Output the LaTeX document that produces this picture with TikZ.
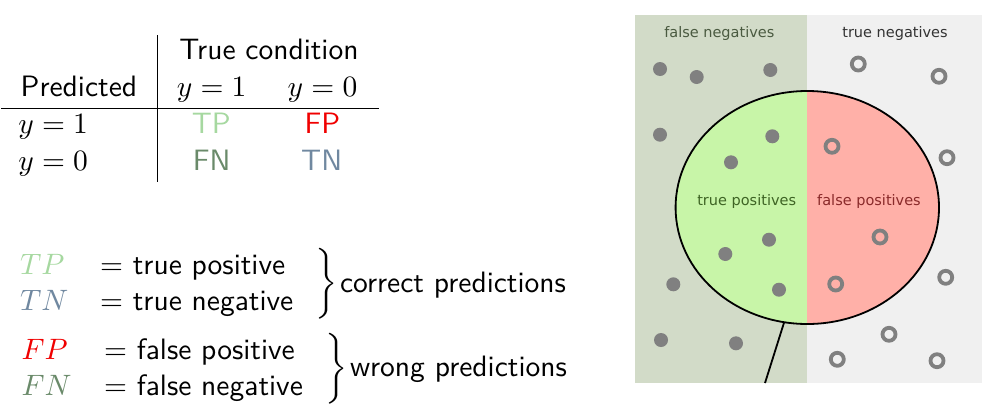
\documentclass[tikz,border=0pt]{standalone}
\usepackage{fontspec}
\newfontfamily\dejavu{DejaVu Sans}
\newfontfamily\lmsf{lmsans10-regular}[Extension=.otf]
\DeclareFontShape{OML}{cmm}{m}{it}{<->cmmi10}{}
\DeclareFontShape{OT1}{cmr}{m}{n}{<->cmr10}{}
\DeclareFontShape{OMS}{cmsy}{m}{n}{<->cmsy10}{}
\DeclareFontShape{OMX}{cmex}{m}{n}{<->cmex10}{}
\usetikzlibrary{shapes.geometric}
\definecolor{tpcol}{HTML}{A6D8A0}
\definecolor{fpcol}{HTML}{F00000}
\definecolor{fncol}{HTML}{6A8A6A}
\definecolor{tncol}{HTML}{7088A0}
\definecolor{fnbg}{HTML}{D2DBC8}
\definecolor{tnbg}{HTML}{F0F0F0}
\definecolor{tpfill}{HTML}{C8F5A8}
\definecolor{fpfill}{HTML}{FFB0A8}
\definecolor{dotcol}{HTML}{808080}
\definecolor{fnlab}{HTML}{4A5A40}
\definecolor{tnlab}{HTML}{333333}
\definecolor{tplab}{HTML}{3E6424}
\definecolor{fplab}{HTML}{8A2A2A}
\newcommand{\mybrace}{$\left.\vcenter{\hbox{\rule{0pt}{70pt}}}\right\}$}
\begin{document}
\begin{tikzpicture}[x=1pt,y=-1pt,
  txt/.style={inner sep=0pt,outer sep=0pt,font=\fontsize{29.5}{35}\selectfont\lmsf},
  lab/.style={inner sep=0pt,outer sep=0pt,font=\fontsize{14.5}{16}\selectfont\dejavu},
  rule/.style={line width=1pt,black},
  fdot/.style={circle,fill=dotcol,inner sep=0pt,minimum size=14pt},
  odot/.style={circle,draw=dotcol,line width=3.8pt,inner sep=0pt,minimum size=13pt}]
\useasboundingbox (0,0) rectangle (1001,413);
% ---------------- table
\node[txt,anchor=base] (tc) at (269,59.3) {True condition};
\node[txt,anchor=base west] (pred) at (20.7,96.7) {Predicted};
\node[txt,anchor=base] (h1) at (211.7,96) {$y=1$};
\node[txt,anchor=base] (h0) at (322.5,96) {$y=0$};
\node[txt,anchor=base west] (r1) at (18.3,133.3) {$y=1$};
\node[txt,anchor=base west] (r0) at (18.3,170.7) {$y=0$};
\node[txt,anchor=base,text=tpcol] (ctp) at (211.3,133.3) {TP};
\node[txt,anchor=base,text=fpcol] (cfp) at (322.5,133.3) {FP};
\node[txt,anchor=base,text=fncol] (cfn) at (211.7,170.7) {FN};
\node[txt,anchor=base,text=tncol] (ctn) at (321.7,170.7) {TN};
\coordinate (vt) at (157.3,35);
\coordinate (vb) at (157.3,181.7);
\coordinate (hl) at (1,108.3);
\coordinate (hr) at (379,108.3);
\draw[rule] (vt) -- (vb);
\draw[rule] (hl) -- (hr);
% ---------------- legend
\node[txt,anchor=base west,text=tpcol] (ltp) at (20,274) {$TP$};
\node[txt,anchor=base west] (dtp) at (100,274) {$=$ true positive};
\node[txt,anchor=base west,text=tncol] (ltn) at (20,310) {$TN$};
\node[txt,anchor=base west] (dtn) at (100,310) {$=$ true negative};
\node[txt,anchor=base west,text=fpcol] (lfp) at (21.7,359.3) {$FP$};
\node[txt,anchor=base west] (dfp) at (104,359.3) {$=$ false positive};
\node[txt,anchor=base west,text=fncol] (lfn) at (21.7,395) {$FN$};
\node[txt,anchor=base west] (dfn) at (104,395) {$=$ false negative};
\node[txt,anchor=west] (b1) at (314,284) {\mybrace};
\node[txt,anchor=base west] (cp) at (340,292.3) {correct predictions};
\node[txt,anchor=west] (b2) at (324,369) {\mybrace};
\node[txt,anchor=base west] (wp) at (350,376.7) {wrong predictions};
% ---------------- right figure
\fill[fnbg] (635,15) rectangle (807.3,383);
\fill[tnbg] (807.3,15) rectangle (981.7,383);
\begin{scope}
\clip (807.3,207.5) ellipse [x radius=131.7, y radius=116.5];
\fill[tpfill] (670,85) rectangle (807.3,330);
\fill[fpfill] (807.3,85) rectangle (945,330);
\end{scope}
\node[ellipse,draw=black,line width=1.8pt,inner sep=0pt,minimum width=263.4pt,minimum height=233pt] (ell) at (807.3,207.5) {};
\coordinate (stemtop) at (784,322.7);
\coordinate (stembot) at (765,383);
\draw[line width=1.8pt] (stemtop) -- (stembot);
\node[lab,text=fnlab,anchor=base] (lfnl) at (719.3,37) {false negatives};
\node[lab,text=tnlab,anchor=base] (ltnl) at (895,37) {true negatives};
\node[lab,text=tplab,anchor=base] (ltpl) at (746.7,205.5) {true positives};
\node[lab,text=fplab,anchor=base] (lfpl) at (869,205.5) {false positives};
% filled dots
\foreach \i/\x/\y in {1/660/69,2/696.7/77,3/770.3/70,4/660/134.7,5/772.3/136.3,6/731/162.3,7/769/239.7,8/725.3/254,9/673.3/284.3,10/779/289.7,11/661/340,12/736/343.3}
  \node[fdot] (f\i) at (\x,\y) {};
% open dots
\foreach \i/\x/\y in {1/858.3/64,2/939/76.3,3/832/146.3,4/947/157.7,5/880/237,6/945.7/277.3,7/835.7/284,8/889/334.3,9/837.3/359.3,10/937/360.7}
  \node[odot] (o\i) at (\x,\y) {};
\end{tikzpicture}
\end{document}
